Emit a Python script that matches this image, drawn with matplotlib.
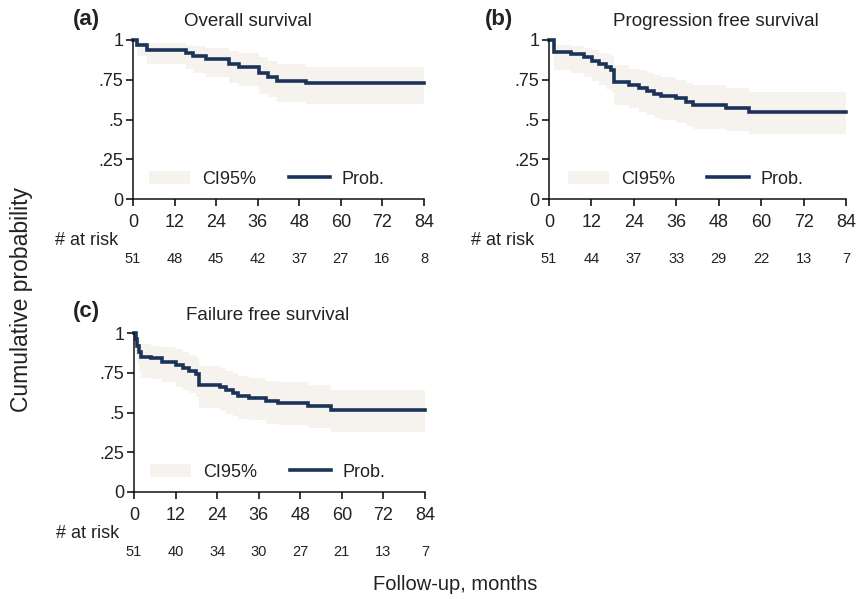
import numpy as np
import matplotlib
matplotlib.use("Agg")
import matplotlib.pyplot as plt
from matplotlib.patches import Patch
from matplotlib.lines import Line2D

plt.rcParams['font.family'] = ['Liberation Sans', 'DejaVu Sans']

# follow-up axis
months = [0, 12, 24, 36, 48, 60, 72, 84]
end_month = 84

# (a) overall survival
os_time = [0, 1.2, 4.1, 15.3, 17.2, 21.1, 27.8, 30.7, 36.5, 39.0, 41.5, 50.0]
os_prob = [1, 0.97, 0.94, 0.92, 0.90, 0.88, 0.85, 0.83, 0.79, 0.77, 0.745, 0.73]
os_lo = [1, 0.90, 0.85, 0.82, 0.79, 0.77, 0.73, 0.71, 0.66, 0.64, 0.61, 0.60]
os_hi = [1, 0.99, 0.98, 0.97, 0.96, 0.95, 0.93, 0.92, 0.89, 0.87, 0.85, 0.83]
os_risk = [51, 48, 45, 42, 37, 27, 16, 8]

# (b) progression free survival
pfs_time = [0, 1.4, 6.1, 9.9, 12.2, 14.0, 16.0, 17.4, 18.4, 22.6, 25.5, 27.7,
            29.7, 31.6, 35.9, 38.7, 40.6, 50.0, 56.5]
pfs_prob = [1, 0.925, 0.91, 0.895, 0.87, 0.85, 0.83, 0.81, 0.735, 0.715, 0.70,
            0.68, 0.66, 0.645, 0.635, 0.61, 0.59, 0.57, 0.55]
pfs_lo = [1, 0.81, 0.79, 0.77, 0.74, 0.72, 0.69, 0.67, 0.59, 0.57, 0.55, 0.53,
          0.51, 0.50, 0.48, 0.46, 0.44, 0.43, 0.41]
pfs_hi = [1, 0.97, 0.96, 0.95, 0.94, 0.92, 0.91, 0.90, 0.84, 0.82, 0.81, 0.79,
          0.78, 0.77, 0.75, 0.73, 0.72, 0.70, 0.67]
pfs_risk = [51, 44, 37, 33, 29, 22, 13, 7]

# (c) failure free survival
ffs_time = [0, 0.5, 1.0, 1.5, 2.0, 4.8, 8.2, 12.0, 14.0, 16.0, 17.9, 18.9,
            24.7, 26.6, 28.5, 30.0, 33.3, 38.0, 41.6, 50.3, 57.0]
ffs_prob = [1, 0.96, 0.92, 0.88, 0.85, 0.84, 0.82, 0.80, 0.78, 0.76, 0.745,
            0.675, 0.66, 0.64, 0.625, 0.605, 0.59, 0.575, 0.56, 0.54, 0.515]
ffs_lo = [1, 0.86, 0.81, 0.76, 0.72, 0.71, 0.69, 0.66, 0.64, 0.62, 0.60, 0.53,
          0.51, 0.49, 0.48, 0.46, 0.45, 0.43, 0.42, 0.40, 0.38]
ffs_hi = [1, 0.99, 0.97, 0.95, 0.93, 0.92, 0.91, 0.90, 0.88, 0.86, 0.85, 0.79,
          0.78, 0.76, 0.75, 0.73, 0.72, 0.70, 0.69, 0.67, 0.64]
ffs_risk = [51, 40, 34, 30, 27, 21, 13, 7]

line_col = '#1b3358'
band_col = '#f6f3ef'  # CI band is barely visible in the original
text_col = '#222222'

W, H = 857, 599
fig = plt.figure(figsize=(W / 100, H / 100), dpi=100)


def px_axes(left, top, right, bottom):
    return fig.add_axes([left / W, 1 - bottom / H, (right - left) / W, (bottom - top) / H])


def panel(ax, t, p, lo, hi, risk):
    tt = np.append(t, end_month)
    ax.fill_between(tt, np.append(lo, lo[-1]), np.append(hi, hi[-1]),
                    step='post', color=band_col, lw=0)
    ax.step(tt, np.append(p, p[-1]), where='post', color=line_col, lw=2.6,
            clip_on=False, solid_joinstyle='miter')
    ax.set_xlim(0, end_month)
    ax.set_ylim(0, 1)
    ax.set_xticks(months)
    ax.set_yticks([0, 0.25, 0.5, 0.75, 1])
    ax.set_yticklabels(['0', '.25', '.5', '.75', '1'])
    for s in ['top', 'right']:
        ax.spines[s].set_visible(False)
    for s in ['left', 'bottom']:
        ax.spines[s].set_linewidth(1.1)
        ax.spines[s].set_color('#111111')
    ax.tick_params(axis='x', length=5, width=1.1, pad=6, labelsize=13, labelcolor=text_col)
    ax.tick_params(axis='y', length=5, width=1.1, pad=2, labelsize=13, labelcolor=text_col)
    ax.text(-0.05, -0.26, '# at risk', transform=ax.transAxes, ha='right', va='center',
            fontsize=13, color=text_col)
    for m, r in zip(months, risk):
        ax.text(m, -0.375, str(r), transform=ax.get_xaxis_transform(), ha='center',
                va='center', fontsize=10.5, color=text_col)
    handles = [Patch(facecolor=band_col, edgecolor='none'),
               Line2D([], [], color=line_col, lw=2.6)]
    ax.legend(handles, ['CI95%', 'Prob.'], ncol=2, frameon=False, fontsize=13,
              loc='center', bbox_to_anchor=(0.46, 0.125), handlelength=2.3,
              handletextpad=0.65, columnspacing=1.8, labelcolor=text_col)


ax_a = px_axes(133, 40, 424, 199)
panel(ax_a, os_time, os_prob, os_lo, os_hi, os_risk)
ax_b = px_axes(549, 40, 846, 199)
panel(ax_b, pfs_time, pfs_prob, pfs_lo, pfs_hi, pfs_risk)
ax_c = px_axes(134, 333, 425, 492)
panel(ax_c, ffs_time, ffs_prob, ffs_lo, ffs_hi, ffs_risk)


def ftext(x, y, s, **kw):
    fig.text(x / W, 1 - y / H, s, va='center', color=text_col, **kw)


ftext(86, 19, '(a)', ha='center', fontsize=16, fontweight='bold')
ftext(248, 22, 'Overall survival', ha='center', fontsize=13.5)
ftext(499, 19, '(b)', ha='center', fontsize=16, fontweight='bold')
ftext(716, 22, 'Progression free survival', ha='center', fontsize=13.5)
ftext(86, 312, '(c)', ha='center', fontsize=16, fontweight='bold')
ftext(268, 315, 'Failure free survival', ha='center', fontsize=13.5)
ftext(22, 300, 'Cumulative probability', ha='center', rotation=90, fontsize=16.5)
ftext(455, 585, 'Follow-up, months', ha='center', fontsize=14.5)

fig.savefig('out.png', dpi=100)
